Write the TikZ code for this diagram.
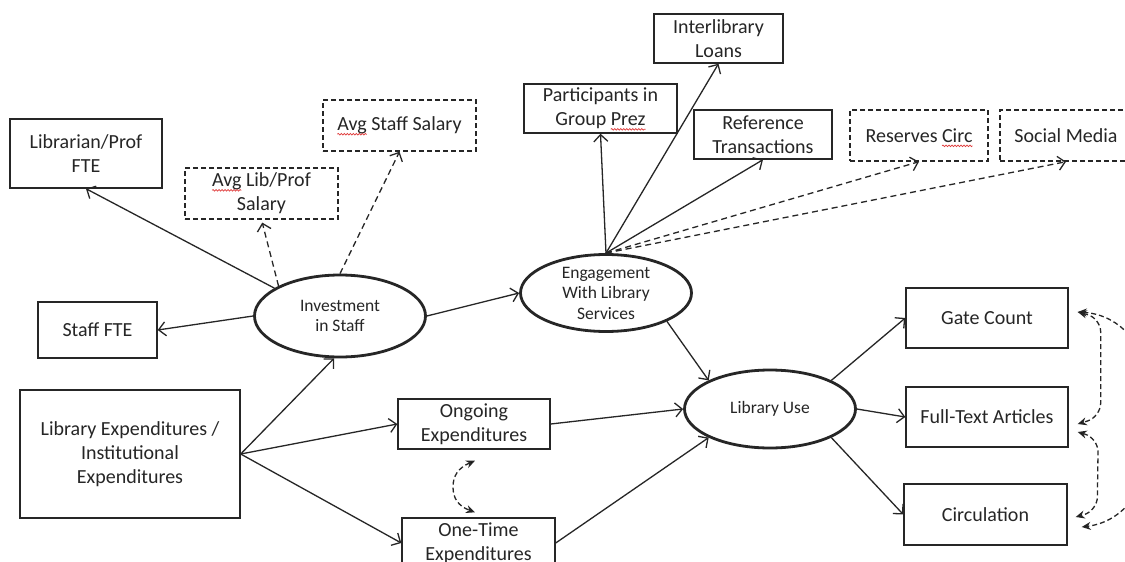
\documentclass[tikz,border=0pt]{standalone}
\usepackage{fontspec}
\setmainfont{Carlito}
\usetikzlibrary{arrows.meta,shapes.geometric,decorations.pathmorphing}

\definecolor{ink}{HTML}{262626}
\definecolor{spell}{HTML}{E03A3A}

% word with a red wavy spell-check underline
\newcommand\spellmark[1]{\tikz[baseline=(w.base)]{%
  \node[inner sep=0pt,outer sep=0pt,minimum width=0pt,minimum height=0pt,
        draw=none,shape=rectangle,solid] (w) {#1};%
  \draw[overlay,solid,spell,line width=0.7pt,decorate,
        decoration={snake,amplitude=0.8pt,segment length=3pt}]
        ([yshift=-3.5pt]w.base west) -- ([yshift=-3.5pt]w.base east);}}

\tikzset{
  box/.style={draw=ink, line width=1.4pt, rectangle, align=center, inner sep=0pt,
              font=\fontsize{20}{24}\selectfont, text=ink},
  dbox/.style={box, dash pattern=on 5pt off 3pt},
  oval/.style={draw=ink, ellipse, line width=2.8pt, align=center, inner sep=0pt,
               font=\fontsize{17.5}{20.5}\selectfont, text=ink},
  link/.style={draw=ink, line width=1.3pt, -{Straight Barb[length=7pt,width=14pt]}},
  dlink/.style={link, dash pattern=on 6pt off 4pt},
  pair/.style={draw=ink, line width=1.3pt, dash pattern=on 5pt off 3pt,
               {Stealth[length=9pt,width=8pt]}-{Stealth[length=9pt,width=8pt]}},
}

\begin{document}
\begin{tikzpicture}[x=1pt,y=-1pt]
  \fill[white] (0,0) rectangle (1125,562);
  \useasboundingbox (0,0) rectangle (1125,562);
  \clip (0,0) rectangle (1125,562);

  % staffing
  \node[box, minimum width=152pt, minimum height=69pt] (lib) at (86,153.5) {Librarian/Prof\\FTE};
  \node[dbox, minimum width=153pt, minimum height=51pt] (avglib) at (261.5,193.5) {\spellmark{Avg} Lib/Prof\\Salary};
  \node[dbox, minimum width=153pt, minimum height=51pt] (avgstaff) at (399.5,125.5) {\spellmark{Avg} Staff Salary};
  \node[box, minimum width=119pt, minimum height=56pt] (staff) at (97.5,330) {Staff FTE};
  \node[oval, minimum width=171pt, minimum height=82pt] (inv) at (340,316) {Investment\\in Staff};

  % services
  \node[oval, minimum width=171pt, minimum height=77pt] (eng) at (606,293) {Engagement\\With Library\\Services};
  \node[box, minimum width=153pt, minimum height=49pt] (part) at (600.5,108.5) {Participants in\\Group \spellmark{Prez}};
  \node[box, minimum width=129pt, minimum height=49pt] (ill) at (718.5,38.5) {Interlibrary\\Loans};
  \node[box, minimum width=138pt, minimum height=49pt] (ref) at (763,134.5) {Reference\\Transactions};
  \node[dbox, minimum width=138pt, minimum height=51pt] (res) at (919,135.5) {Reserves \spellmark{Circ}};
  \node[dbox, minimum width=132pt, minimum height=51pt] (soc) at (1066,135.5) {Social Media};

  % use
  \node[oval, minimum width=171pt, minimum height=78pt] (use) at (770,409) {Library Use};
  \node[box, minimum width=162pt, minimum height=60pt] (gate) at (987,318) {Gate Count};
  \node[box, minimum width=162pt, minimum height=60pt] (ft) at (987,417) {Full-Text Articles};
  \node[box, minimum width=163pt, minimum height=61pt] (circ) at (985.5,514.5) {Circulation};

  % expenditures
  \node[box, minimum width=220pt, minimum height=128pt] (exp) at (130,454) {Library Expenditures /\\Institutional\\Expenditures};
  \node[box, minimum width=152pt, minimum height=50pt] (ong) at (474,424) {Ongoing\\Expenditures};
  \node[box, minimum width=153pt, minimum height=50pt] (one) at (478.5,543) {One-Time\\Expenditures};

  % links out of the staff investment
  \draw[link] (inv.157) -- (lib.south);
  \draw[dlink, shorten >=3pt] (inv.154) -- (avglib.south);
  \draw[dlink] (inv.north) -- (avgstaff.south);
  \draw[link] (inv.west) -- (staff.east);
  \draw[link] (inv.east) -- (eng.west);

  % expenditure split
  \draw[link] (exp.east) -- (inv.262);
  \draw[link] (exp.east) -- (ong.west);
  \draw[link] (exp.east) -- (one.west);

  % engagement measures
  \draw[link] (eng.north) -- (part.south);
  \draw[link] (eng.north) -- (ill.south);
  \draw[link] (eng.north) -- (ref.south);
  \draw[dlink] (eng.north) -- (res.south);
  \draw[dlink] (eng.north) -- (soc.south);

  % into and out of library use
  \draw[link] (eng.335) -- (use.155);
  \draw[link] (ong.east) -- (use.west);
  \draw[link] (one.east) -- (use.205);
  \draw[link] (use.25) -- (gate.west);
  \draw[link] (use.east) -- (ft.west);
  \draw[link] (use.335) -- (circ.west);

  % correlations
  \draw[pair] ([shift={(1,11)}]ong.south) .. controls (458,468) and (453,476) .. (453,487)
              .. controls (453,498) and (458,506) .. ([shift={(-3.5,-5)}]one.north);
  \draw[pair, rounded corners=14pt] ([shift={(9,-6)}]gate.east) -- ([shift={(32,0)}]gate.east)
              -- ([shift={(32,0)}]ft.east) -- ([shift={(9,7)}]ft.east);
  \draw[pair, rounded corners=14pt] ([shift={(9,15)}]ft.east) -- ([shift={(29.5,21)}]ft.east)
              -- ([shift={(29.5,-3.5)}]circ.east) -- ([shift={(8,2.5)}]circ.east);
  \draw[pair] ([shift={(9,-6)}]gate.east) .. controls (1180,318) and (1180,515) .. ([shift={(14,12.5)}]circ.east);
\end{tikzpicture}
\end{document}
